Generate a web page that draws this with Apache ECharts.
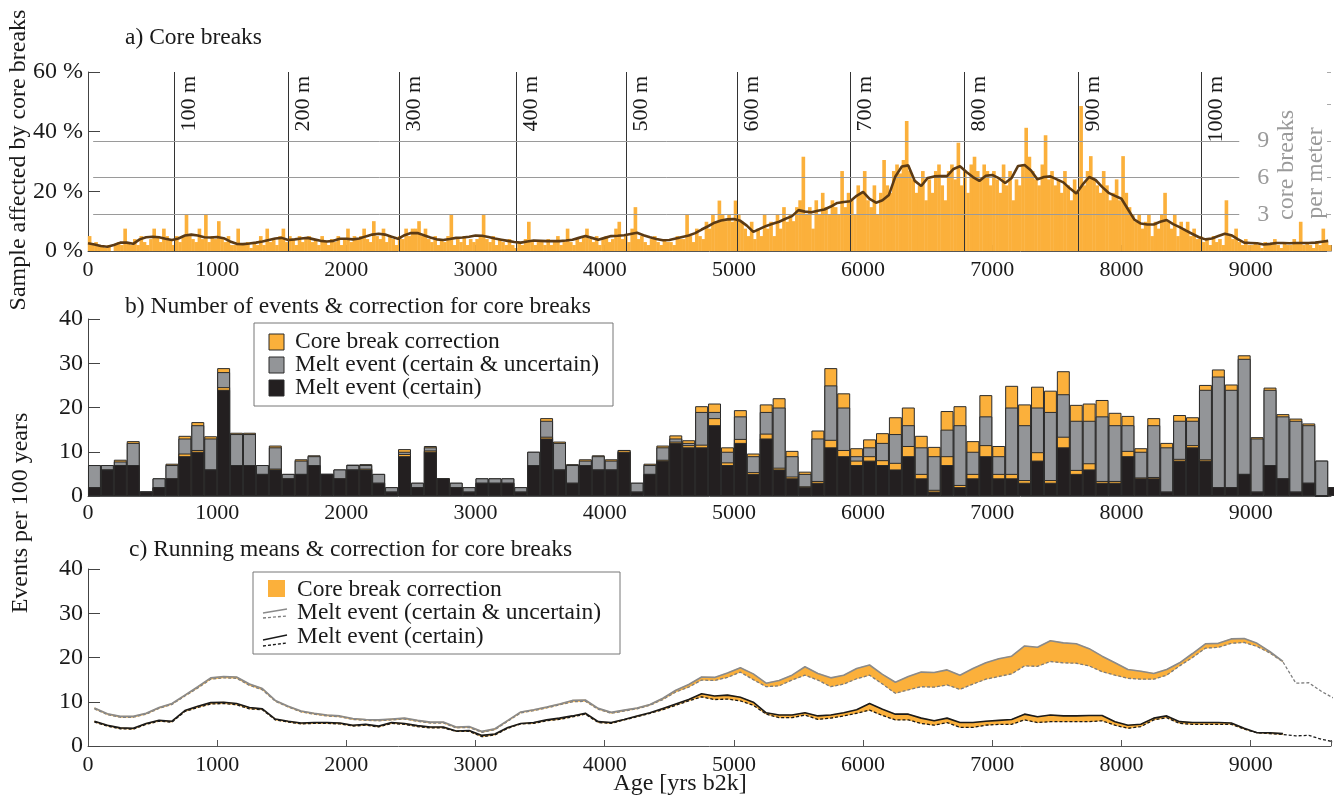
<!DOCTYPE html>
<html>
<head>
<meta charset="utf-8">
<title>Core breaks and melt events</title>
<script src="https://cdn.jsdelivr.net/npm/echarts@6/dist/echarts.min.js"></script>
<style>
  html, body { margin: 0; padding: 0; background: #fff; }
  #chart { width: 1334px; height: 795px; }
</style>
</head>
<body>
<div id="chart"></div>
<script>
// ---------------- data ----------------
const AGE_MAX = 9622;                 // right end of the age axis [yrs b2k]
const ageTicks = [0, 1000, 2000, 3000, 4000, 5000, 6000, 7000, 8000, 9000];

// a) share of samples affected by core breaks [%], 25-year bins from 0
const BREAK_START = 0, BREAK_STEP = 25;
const breakPct = [
  5,2,3,2,2,1,2,0,2,3,2,7.5,3,2,4,2,5,3,2,4,
  7.5,5,3,7.5,5,4,2,5,3,5,12.2,5,4,3,7.5,4,12.2,3,5,4,
  10,4,3,5,2,2,7.5,2,2,3,1,3,2,5,2,7.5,3,4,2,5,
  7.5,3,5,4,2,5,3,4,5,3,4,2,5,3,2,4,3,5,2,4,
  7.5,3,5,4,5,7.5,4,3,10,5,4,7.5,3,5,4,2,5,4,7.5,5,
  7.5,7.5,10,5,7.5,4,3,5,2,4,3,5,12.2,2,4,3,5,2,4,3,
  4,5,12.2,4,3,5,2,4,3,2,4,2,1,3,2,4,9.8,3,2,3,
  3,2,4,2,3,5,2,3,7.5,3,2,4,3,5,7.5,4,3,5,2,4,
  5,3,4,7.5,9.8,4,5,3,7.5,14.7,4,5,3,2,4,5,3,2,4,3,
  3,2,5,4,4,12.2,5,3,7.5,5,4,9.8,7.5,12.2,10,16.9,12.2,10,12.2,9.8,
  16.9,12.2,9.8,7.5,5,9.8,4,7.5,5,12.2,7.5,9.8,5,12.2,7.5,14.7,9.8,12.2,10,14.7,
  17,31.6,12.2,14.7,7.5,17,12.2,19.5,14.7,12.2,17,14.7,12.2,26.8,14.7,19.5,17,12.2,22,19.5,
  26.8,17,14.7,22,12.2,19.5,30.5,22,19.5,26.8,29,26,30.5,43.6,26.8,24,19.5,22,26.8,17,
  24,19.5,26.8,29,22,17,26.8,29,24,36.3,22,26.8,19.5,29,31.6,26.8,24,29,26.8,22,
  26.8,24,19.5,29,22,26.8,17,24,22,29,41.3,31.6,26.8,24,22,29,38.8,24,26.8,22,
  24,19.5,26.8,22,17,24,19.5,48.6,22,26.8,31.8,24,22,19.5,26.8,22,17,19.5,24,17,
  31.8,19.5,14.7,12.2,9.8,12.2,7.5,9.8,12.2,5,9.8,7.5,12.2,19.5,9.8,7.5,12.2,5,9.8,7.5,
  9.8,5,7.5,4,5,3,4,2,5,3,4,2,17,5,4,7.5,3,2,4,2,
  2,3,2,1,3,2,2,4,2,1,3,2,2,4,3,9.8,2,3,2,1,
  3,2,7.5,3,2
];

// a) running mean of the core-break share [%], every 50 years from 0
const MEAN_A_START = 0, MEAN_A_STEP = 50;
const breakMean = [
  2.6,2.2,1.7,1.4,2.0,2.8,2.8,2.4,3.9,4.6,
  4.8,4.6,4.1,3.7,4.2,5.2,5.5,5.2,4.6,4.5,
  4.7,4.3,3.2,2.4,2.3,2.5,2.8,3.2,3.7,4.2,
  4.4,3.7,3.9,4.2,4.4,3.9,3.4,3.2,3.4,4.1,
  4.1,3.9,4.2,4.9,5.5,5.8,5.5,4.8,4.1,5.3,
  6.0,6.0,5.3,4.5,3.9,3.7,4.0,4.4,4.5,4.8,
  5.2,5.1,4.7,4.2,3.8,3.4,3.0,2.8,3.2,3.5,
  3.4,3.3,3.3,3.3,3.5,3.8,4.4,5.0,4.4,3.8,
  4.4,5.0,5.1,5.3,5.7,6.1,5.3,4.6,4.0,3.6,
  3.7,4.2,4.7,5.2,6.0,7.2,8.3,9.5,10.2,10.6,
  10.7,10.1,8.5,6.4,7.4,8.4,9.1,9.8,10.8,11.7,
  13.7,13.2,13.0,13.5,13.9,14.9,16.1,16.4,16.7,18.5,
  19.8,17.5,16.2,17.0,18.8,25.0,28.3,28.7,23.5,21.8,
  24.5,25.0,25.1,25.1,27.5,28.4,26.5,24.8,23.5,25.2,
  25.5,24.4,22.8,24.5,28.5,28.8,27.0,24.0,24.8,25.0,
  24.0,23.0,21.0,19.3,22.3,24.8,23.8,21.5,19.5,18.5,
  17.5,14.0,10.5,9.2,8.9,8.9,9.8,10.4,9.0,8.0,
  6.8,5.7,4.6,3.9,4.2,5.0,5.8,5.3,4.0,2.8,
  2.7,2.6,2.2,2.4,2.7,2.7,2.6,2.7,2.7,2.7,
  2.8,3.1,3.4
];

// a) depth of the core every 100 m, at its age
const depthLabels = ['100 m','200 m','300 m','400 m','500 m','600 m','700 m','800 m','900 m','1000 m'];
const depthAges   = [664, 1550, 2411, 3313, 4167, 5022, 5902, 6785, 7668, 8617];

// a) reference levels in core breaks per meter
const breaksPerMeter = [3, 6, 9];
const PCT_PER_BREAK = 4.1;

// b) events per 100-year bin, bins starting at 0, 100, ..., 9600
const EVENT_START = 0, EVENT_STEP = 100;
const certain = [
  2,6,7,7,1,2,4,9,10,6, 24,7,7,5,6,4,5,7,5,4,
  6,6,3,1,9,2,10,4,2,1, 3,3,3,1,7,13,6,3,7,6,
  6,10,1,5,8,12,11,11,16,7, 12,5,13,6,4,2,3,11,9,7,
  8,7,6,9,4,1,7,2,4,9, 4,4,3,8,3,11,5,6,3,3,
  9,4,4,1,8,11,8,2,2,5, 1,7,4,1,3,0,2
];
const certainCorr = [
  2,6,7,7,1,2,4,9.6,10.4,6, 24.6,7,7,5,6.2,4,5,7,5,4,
  6,6.2,3,1,9.5,2,10.3,4,2,1, 3,3,3,1,7,13.4,6,3,7,6,
  6,10.4,1,5,8.2,12.3,11.5,11.6,17.6,7.6, 12.9,5.4,14.1,6.4,4.4,2.2,3.4,12.7,10.4,8,
  9,8.1,7.5,11.3,5,1.4,9,2.5,5,11.5, 5,5,3.6,9.9,3.6,13.4,5.9,7.4,3.4,3.4,
  10.2,4.2,4.3,1,8.4,11.5,8.3,2,2,5, 1,7,4,1,3,0,2
];
const total = [
  7,7,7.8,12,1,4,7,13,16,13, 28,14,14,7,11,5,8,9,5,6,
  7,7,5,2,10,3,11,4,3,2, 4,4,4,2,10,17,12,7,8,9,
  8,10,3,7,11,13,12,19,19,10, 18,9,19,20,9,5,13,25,20,9,
  11,12,14,16,11,9,15,16,10,18, 9,20,16,20,19,23,17,17,18,16,
  16,10,16,11,17,17,24,27,24,31, 13,24,18,17,16,8,2
];
const totalCorr = [
  7,7,8.2,12.4,1,4,7.3,13.6,16.7,13.5, 28.9,14.3,14.3,7,11.4,5,8.3,9.2,5,6,
  7.1,7.2,5,2,10.6,3,11.3,4,3,2, 4,4,4,2,10,17.6,12.3,7.2,8.3,9.2,
  8.3,10.4,3,7.3,11.4,13.7,12.6,20.3,20.9,11, 19.4,9.6,20.7,22.1,10.2,5.5,14.8,28.9,23.2,10.8,
  12.8,14.2,17.8,20,13.6,11.1,19.2,20.3,12.4,22.8, 11.3,24.9,20.7,24.7,23.8,28.2,20.6,20.9,21.7,18.8,
  18.1,10.8,17.6,12,18.3,17.8,25.1,28.6,25.2,31.8, 13.3,24.5,18.5,17.5,16.4,8,2
];

// c) running means, every 100 years from 50 (corrected series end at 9250)
const MEAN_C_START = 50, MEAN_C_STEP = 100;
const totalCorrMean = [
  8.6,7.3,6.7,6.7,7.4,8.7,9.6,11.5,13.4,15.4,
  15.7,15.6,14.0,13.0,10.3,9.0,7.9,7.4,7.0,6.8,
  6.2,6.0,5.9,6.1,6.3,5.8,5.4,5.4,4.3,4.4,
  3.3,3.9,5.8,7.7,8.2,8.8,9.5,10.3,10.4,8.5,
  7.6,8.1,8.6,9.4,10.8,12.6,13.9,15.6,15.5,16.5,
  17.7,16.3,14.2,14.8,16.0,17.9,16.4,15.4,16.0,17.5,
  18.3,16.2,14.4,15.7,16.7,16.6,17.2,16.0,17.5,18.8,
  19.7,20.3,22.6,22.3,23.8,23.3,23.1,22.0,20.3,18.8,
  17.3,16.9,16.4,17.3,18.8,20.9,23.1,23.2,24.2,24.3,
  23.2,21.3,19.1
];
const totalMean = [
  8.4,7.1,6.5,6.5,7.2,8.5,9.4,11.3,13.1,15.1,
  15.4,15.3,13.7,12.7,10.1,8.8,7.7,7.2,6.8,6.6,
  6.0,5.8,5.7,5.9,6.1,5.6,5.2,5.2,4.1,4.2,
  3.1,3.7,5.6,7.5,8.0,8.6,9.3,10.0,10.1,8.3,
  7.4,7.9,8.4,9.2,10.5,12.2,13.3,14.9,14.8,15.5,
  16.7,15.0,13.4,13.6,14.9,16.0,14.9,13.4,14.0,15.2,
  16.0,14.0,11.9,12.7,13.4,13.3,13.8,12.8,14.0,15.1,
  15.7,16.3,18.1,18.0,19.1,18.8,18.7,18.1,16.8,16.0,
  15.3,15.1,15.1,16.0,18.1,20.0,22.1,22.3,23.2,23.4,
  22.5,21.0,19.0,14.2,14.3,12.3,10.7
];
const certainCorrMean = [
  5.6,4.7,4.1,4.0,5.1,5.8,5.6,8.0,9.0,9.8,
  9.9,9.6,8.7,8.4,6.1,5.6,5.2,5.3,5.3,5.2,
  4.7,4.9,4.5,5.3,5.1,4.6,4.3,4.3,3.4,3.5,
  2.4,2.7,4.2,5.1,5.3,5.9,6.3,6.8,7.4,5.5,
  5.3,6.0,6.8,7.5,8.5,9.5,10.5,11.8,11.3,11.5,
  11.0,9.9,7.5,7.0,7.0,7.5,6.8,7.0,7.5,8.2,
  9.6,8.3,7.2,7.2,6.3,5.7,6.3,5.3,5.3,5.6,
  5.8,6.0,7.2,6.6,7.0,6.8,6.8,6.9,6.9,5.5,
  4.7,4.9,6.3,6.8,5.5,5.3,5.3,5.3,5.2,4.0,
  3.0,3.0,2.8
];
const certainMean = [
  5.4,4.5,3.9,3.8,4.9,5.6,5.4,7.8,8.7,9.5,
  9.6,9.3,8.4,8.2,5.9,5.4,5.0,5.1,5.1,5.0,
  4.5,4.7,4.3,5.1,4.9,4.4,4.1,4.1,3.3,3.3,
  2.1,2.5,4.0,5.0,5.1,5.7,6.0,6.6,7.2,5.3,
  5.1,5.9,6.6,7.4,8.2,9.2,10.2,11.1,10.5,10.6,
  10.2,9.2,7.2,6.4,6.4,7.0,6.0,6.3,6.8,7.4,
  8.1,6.9,5.9,5.9,5.1,4.7,5.3,4.2,4.2,4.7,
  4.9,4.9,5.9,5.3,5.5,5.5,5.5,5.5,5.7,4.7,
  4.0,4.4,5.9,6.4,5.1,4.9,4.9,4.9,4.9,3.8,
  3.0,2.8,2.6,2.3,2.4,1.5,0.9
];

// ---------------- styling & layout ----------------
const FONT = '"Liberation Serif", "Times New Roman", serif';
const ORANGE = '#FBB03B';
const GRAY = '#939598';
const BLACK = '#231F20';
const EDGE = '#2b2b2b';
const BROWN = '#5B3A14';
const GRID_LEFT = 88, GRID_W = 1246;
const pxPerYear = GRID_W / AGE_MAX;
const REF_LINE_FROM = 40, REF_LINE_TO = 8912;   // extent of the breaks-per-meter lines
const TICK_FONT_X = 22, TICK_FONT_Y = 24, TEXT_FONT = 23.5, NAME_FONT = 24;

const binCenters = (start, step, n) => Array.from({ length: n }, (_, i) => start + step * (i + 0.5));
const gridPoints = (start, step, n) => Array.from({ length: n }, (_, i) => start + step * i);
const pairs = (xs, ys) => ys.map((v, i) => [xs[i], v]);

const breakX = binCenters(BREAK_START, BREAK_STEP, breakPct.length);
const meanAX = gridPoints(MEAN_A_START, MEAN_A_STEP, breakMean.length);
const eventX = binCenters(EVENT_START, EVENT_STEP, certain.length);
const meanCX = gridPoints(MEAN_C_START, MEAN_C_STEP, totalMean.length);

function xAxisFor(gridIndex, margin) {
  return {
    type: 'value', gridIndex, min: 0, max: AGE_MAX, interval: 1000,
    axisLine: { show: true, lineStyle: { color: '#555', width: 1 } },
    axisTick: { show: true, inside: true, length: 6, lineStyle: { color: '#555' } },
    axisLabel: {
      margin, color: '#1a1a1a', fontFamily: FONT, fontSize: TICK_FONT_X,
      formatter: v => ageTicks.includes(v) ? String(v) : ''
    },
    splitLine: { show: false }
  };
}
function yAxisFor(gridIndex, max, interval, fmt) {
  return {
    type: 'value', gridIndex, min: 0, max, interval,
    axisLine: { show: true, lineStyle: { color: '#444', width: 1 } },
    axisTick: { show: true, inside: true, length: 12, lineStyle: { color: '#444' } },
    axisLabel: { margin: 5, color: '#1a1a1a', fontFamily: FONT, fontSize: TICK_FONT_Y, formatter: fmt },
    splitLine: { show: false }
  };
}

const eventBar = (name, values, color, z) => ({
  name, type: 'bar', xAxisIndex: 1, yAxisIndex: 2,
  data: pairs(eventX, values),
  barWidth: EVENT_STEP * pxPerYear, barGap: '-100%',
  itemStyle: { color, borderColor: EDGE, borderWidth: 1 },
  z, silent: true
});

// orange band between an uncorrected running mean and its corrected version
const bandSeries = (name, lower, upper) => ({
  name, type: 'custom', xAxisIndex: 2, yAxisIndex: 3, silent: true, z: 2,
  data: upper.map((v, i) => [meanCX[i], lower[i], v]),
  renderItem: (params, api) => {
    if (params.dataIndex !== 0) return null;
    const top = upper.map((v, i) => api.coord([meanCX[i], v]));
    const bottom = upper.map((v, i) => api.coord([meanCX[i], lower[i]])).reverse();
    return {
      type: 'polygon',
      shape: { points: top.concat(bottom) },
      style: { fill: ORANGE, stroke: ORANGE, lineWidth: 0.6 }
    };
  }
});

const txt = (text, x, y, opt = {}) => ({
  type: 'text', x, y, rotation: opt.rotation || 0, z: 100, silent: true,
  style: {
    text, fill: opt.color || '#1a1a1a', fontFamily: FONT, fontSize: opt.size || TEXT_FONT,
    textAlign: opt.align || 'left', textVerticalAlign: 'middle'
  }
});
const rect = (x, y, w, h, fill, stroke) => ({
  type: 'rect', z: 100, silent: true, shape: { x, y, width: w, height: h },
  style: { fill, stroke: stroke || null, lineWidth: stroke ? 1 : 0 }
});
const seg = (x1, y1, x2, y2, color, dash) => ({
  type: 'line', z: 101, silent: true, shape: { x1, y1, x2, y2 },
  style: { stroke: color, lineWidth: 1.3, lineDash: dash || null }
});

const option = {
  animation: false,
  backgroundColor: '#fff',
  grid: [
    { left: GRID_LEFT, top: 72, width: GRID_W, height: 179 },
    { left: GRID_LEFT, top: 319, width: GRID_W, height: 177 },
    { left: GRID_LEFT, top: 569, width: GRID_W, height: 177 }
  ],
  xAxis: [xAxisFor(0, 8), xAxisFor(1, 6), xAxisFor(2, 8)],
  yAxis: [
    yAxisFor(0, 60, 20, v => v + ' %'),
    {
      type: 'value', gridIndex: 0, position: 'right', min: 0, max: 60 / PCT_PER_BREAK, interval: 3,
      axisLine: { show: false },
      axisTick: { show: true, inside: true, length: 4, lineStyle: { color: '#aaa' } },
      axisLabel: { show: false }, splitLine: { show: false }
    },
    yAxisFor(1, 40, 10),
    yAxisFor(2, 40, 10)
  ],
  series: [
    // ---- a) core breaks ----
    {
      name: 'Core break share', type: 'bar', xAxisIndex: 0, yAxisIndex: 0,
      data: pairs(breakX, breakPct), barWidth: BREAK_STEP * pxPerYear + 0.4,
      itemStyle: { color: ORANGE }, z: 2, silent: true
    },
    {
      name: 'Reference lines', type: 'line', xAxisIndex: 0, yAxisIndex: 0, data: [], silent: true,
      markLine: {
        silent: true, symbol: ['none', 'none'], animation: false,
        data: [
          ...depthAges.map((a, i) => ({
            xAxis: a,
            lineStyle: { color: '#333', width: 1, type: 'solid' },
            label: {
              show: true, formatter: depthLabels[i], position: 'insideEndBottom', distance: 4,
              color: '#1a1a1a', fontFamily: FONT, fontSize: 22
            }
          })),
          ...breaksPerMeter.map(b => [
            {
              coord: [REF_LINE_FROM, b * PCT_PER_BREAK],
              lineStyle: { color: '#9a9a9a', width: 1, type: 'solid' },
              label: {
                show: true, position: 'end', distance: 18, formatter: String(b),
                color: '#9a9a9a', fontFamily: FONT, fontSize: 24
              }
            },
            { coord: [REF_LINE_TO, b * PCT_PER_BREAK] }
          ])
        ]
      }
    },
    {
      name: 'Running mean', type: 'line', xAxisIndex: 0, yAxisIndex: 0,
      data: pairs(meanAX, breakMean), showSymbol: false, symbol: 'none',
      lineStyle: { color: BROWN, width: 2.6 }, z: 6, silent: true
    },

    // ---- b) events per 100 years ----
    eventBar('Core break correction', totalCorr, ORANGE, 2),
    eventBar('Melt event (certain & uncertain)', total, GRAY, 3),
    eventBar('Core break correction (certain)', certainCorr, ORANGE, 4),
    eventBar('Melt event (certain)', certain, BLACK, 5),

    // ---- c) running means ----
    bandSeries('total correction', totalMean, totalCorrMean),
    bandSeries('certain correction', certainMean, certainCorrMean),
    {
      name: 'total mean', type: 'line', xAxisIndex: 2, yAxisIndex: 3,
      data: pairs(meanCX, totalMean), symbol: 'none',
      lineStyle: { color: '#7d7d7d', width: 1.3, type: [3, 2] }, silent: true, z: 3
    },
    {
      name: 'total mean corrected', type: 'line', xAxisIndex: 2, yAxisIndex: 3,
      data: pairs(meanCX, totalCorrMean), symbol: 'none',
      lineStyle: { color: '#8a8a8a', width: 1.6 }, silent: true, z: 4
    },
    {
      name: 'certain mean', type: 'line', xAxisIndex: 2, yAxisIndex: 3,
      data: pairs(meanCX, certainMean), symbol: 'none',
      lineStyle: { color: '#1a1a1a', width: 1.3, type: [3, 2] }, silent: true, z: 3
    },
    {
      name: 'certain mean corrected', type: 'line', xAxisIndex: 2, yAxisIndex: 3,
      data: pairs(meanCX, certainCorrMean), symbol: 'none',
      lineStyle: { color: '#1a1a1a', width: 1.6 }, silent: true, z: 4
    }
  ],
  graphic: [
    // panel titles and axis names
    txt('a) Core breaks', 125, 38),
    txt('b) Number of events & correction for core breaks', 125, 307),
    txt('c) Running means & correction for core breaks', 129, 550),
    txt('Sample affected by core breaks', 19, 160, { rotation: Math.PI / 2, align: 'center', size: NAME_FONT }),
    txt('Events per 100 years', 21, 513, { rotation: Math.PI / 2, align: 'center', size: NAME_FONT }),
    txt('Age [yrs b2k]', 680, 784, { align: 'center', size: NAME_FONT }),
    txt('core breaks', 1287, 165, { rotation: Math.PI / 2, align: 'center', color: '#9a9a9a', size: NAME_FONT }),
    txt('per meter', 1316, 173, { rotation: Math.PI / 2, align: 'center', color: '#9a9a9a', size: NAME_FONT }),

    // legend of panel b
    rect(254, 323, 359, 83, '#fff', '#777'),
    rect(269, 334, 15, 16, ORANGE, EDGE),
    rect(269, 357, 15, 16, GRAY, EDGE),
    rect(269, 380, 15, 16, BLACK, EDGE),
    txt('Core break correction', 295, 342),
    txt('Melt event (certain & uncertain)', 295, 365),
    txt('Melt event (certain)', 295, 388),

    // legend of panel c
    rect(253, 572, 367, 82, '#fff', '#777'),
    rect(268, 580, 17, 17, ORANGE),
    seg(263, 613, 287, 609, '#8a8a8a'),
    seg(263, 618, 287, 616, '#7d7d7d', [3, 2]),
    seg(263, 640, 287, 635, '#1a1a1a'),
    seg(263, 646, 287, 643, '#1a1a1a', [3, 2]),
    txt('Core break correction', 297, 590),
    txt('Melt event (certain & uncertain)', 297, 613),
    txt('Melt event (certain)', 297, 637)
  ]
};

const chart = echarts.init(document.getElementById('chart'));
chart.setOption(option);
</script>
</body>
</html>
